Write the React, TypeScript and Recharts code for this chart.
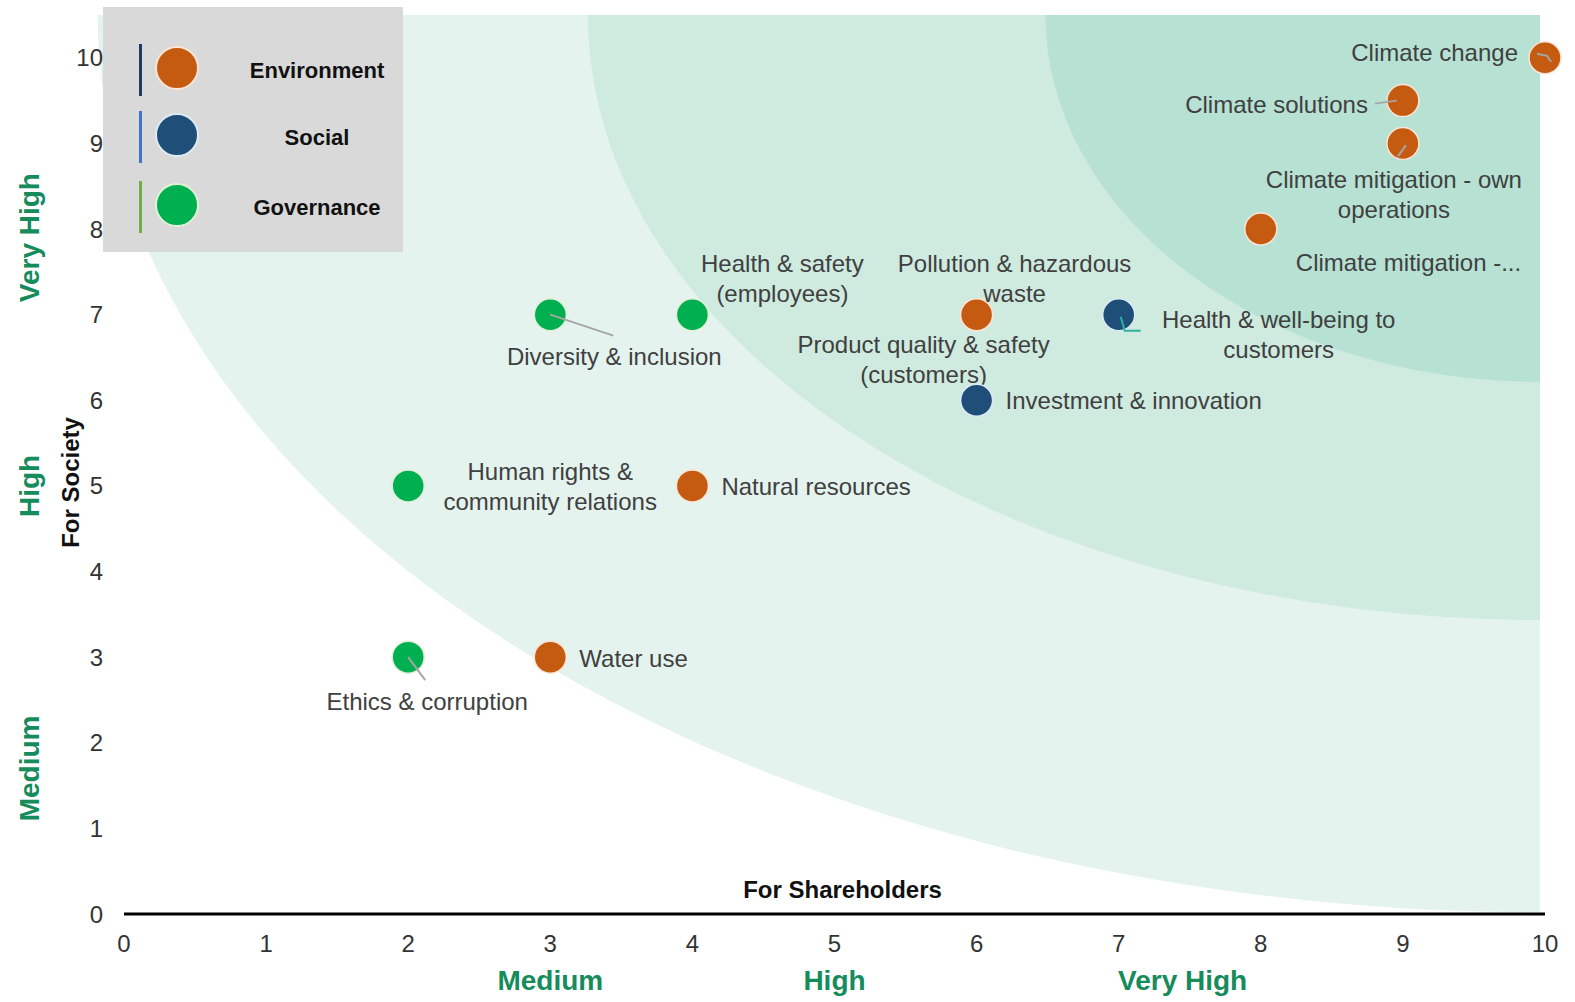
import React from "react";
import { ScatterChart, Scatter, XAxis, YAxis, ReferenceArea, Legend } from "recharts";

if (typeof document !== "undefined") document.body.style.margin = "0";

// Environment
const envNames = [
  "Climate change",
  "Climate solutions",
  "Climate mitigation - own operations",
  "Climate mitigation -...",
  "Product quality & safety (customers)",
  "Pollution & hazardous waste",
  "Natural resources",
  "Water use",
];
const envShareholders = [10, 9, 9, 8, 6, 6, 4, 3];
const envSociety = [10, 9.5, 9, 8, 7, 7, 5, 3];

// Social
const socNames = ["Health & well-being to customers", "Investment & innovation"];
const socShareholders = [7, 6];
const socSociety = [7, 6];

// Governance
const govNames = [
  "Diversity & inclusion",
  "Health & safety (employees)",
  "Human rights & community relations",
  "Ethics & corruption",
];
const govShareholders = [3, 4, 2, 2];
const govSociety = [7, 7, 5, 3];

const axisTicks = [0, 1, 2, 3, 4, 5, 6, 7, 8, 9, 10];
const bandLabels = ["Medium", "High", "Very High"];
const xBandPos = [3, 5, 7.45];
const yBandPos = [1.7, 5, 7.9];

const toRows = (names: string[], xs: number[], ys: number[]) =>
  names.map((name, i) => ({ name, x: xs[i], y: ys[i] }));

const envData = toRows(envNames, envShareholders, envSociety);
const socData = toRows(socNames, socShareholders, socSociety);
const govData = toRows(govNames, govShareholders, govSociety);
const bandRows = toRows(bandLabels, xBandPos, yBandPos);

const FONT = "'Liberation Sans', Arial, sans-serif";
const GREEN_TXT = "#168b5c";
const LABEL_COLOR = "#404040";

const seriesStyle: Record<string, { fill: string; ring: string; bar: string }> = {
  Environment: { fill: "#c55a11", ring: "#fbe5d6", bar: "#203864" },
  Social: { fill: "#1f4e79", ring: "#deebf7", bar: "#4472c4" },
  Governance: { fill: "#00b050", ring: "#e2f0d9", bar: "#70ad47" },
};
const legendOrder = ["Environment", "Social", "Governance"];

type Place = {
  dx: number;
  dy: number;
  anchor: "start" | "middle" | "end";
  wrap?: number;
  leader?: number[][];
  leaderColor?: string;
};

const placement: Record<string, Place> = {
  "Climate change": { dx: -27, dy: -6, anchor: "end", leader: [[-8, -4], [2, -2], [6, 4]] },
  "Climate solutions": { dx: -35, dy: 3, anchor: "end", leader: [[-28, 3], [-6, 0]] },
  "Climate mitigation - own operations": { dx: -9, dy: 36, anchor: "middle", wrap: 24, leader: [[-5, 13], [3, 2]] },
  "Climate mitigation -...": { dx: 35, dy: 33, anchor: "start" },
  "Product quality & safety (customers)": { dx: -53, dy: 29, anchor: "middle", wrap: 24 },
  "Pollution & hazardous waste": { dx: 38, dy: -52, anchor: "middle", wrap: 21 },
  "Natural resources": { dx: 29, dy: 0, anchor: "start" },
  "Water use": { dx: 29, dy: 1, anchor: "start" },
  "Health & well-being to customers": {
    dx: 160, dy: 4, anchor: "middle", wrap: 22,
    leader: [[2, 2], [6, 16], [22, 16]], leaderColor: "#2bb3a0",
  },
  "Investment & innovation": { dx: 29, dy: 0, anchor: "start" },
  "Diversity & inclusion": { dx: 64, dy: 41, anchor: "middle", leader: [[0, 0], [63, 21]] },
  "Health & safety (employees)": { dx: 90, dy: -52, anchor: "middle", wrap: 15 },
  "Human rights & community relations": { dx: 142, dy: -15, anchor: "middle", wrap: 19 },
  "Ethics & corruption": { dx: 19, dy: 44, anchor: "middle", leader: [[0, 0], [17, 23]] },
};

function wrapText(text: string, max?: number) {
  if (!max) return [text];
  const words = text.split(" ");
  const lines: string[] = [];
  let cur = "";
  words.forEach((w) => {
    const next = cur ? cur + " " + w : w;
    if (next.length > max && cur) {
      lines.push(cur);
      cur = w;
    } else cur = next;
  });
  if (cur) lines.push(cur);
  return lines;
}

function makeDot(series: string) {
  const st = seriesStyle[series];
  return (props: any) => {
    const { cx, cy, payload } = props;
    const p = placement[payload.name] || { dx: 20, dy: 0, anchor: "start" };
    const lines = wrapText(payload.name, p.wrap);
    return (
      <g>
        <circle cx={cx} cy={cy} r={16} fill={st.fill} stroke={st.ring} strokeWidth={1.5} />
        {p.leader && (
          <polyline
            points={p.leader.map(([a, b]) => `${cx + a},${cy + b}`).join(" ")}
            fill="none"
            stroke={p.leaderColor || "#a6a6a6"}
            strokeWidth={2}
          />
        )}
        <text
          x={cx + p.dx}
          y={cy + p.dy}
          textAnchor={p.anchor}
          dominantBaseline="central"
          fontFamily={FONT}
          fontSize={24}
          fill={LABEL_COLOR}
        >
          {lines.map((l, i) => (
            <tspan key={i} x={cx + p.dx} dy={i === 0 ? 0 : 30}>
              {l}
            </tspan>
          ))}
        </text>
      </g>
    );
  };
}

// shaded importance zones, quarter ellipses anchored at the top-right corner
function Zones(props: any) {
  const { x, y, width, height } = props;
  const cx = x + width - 5;
  const cy = y;
  const zones = [
    { rx: width * 1.015, ry: height * 0.998, fill: "#e4f3ee" },
    { rx: width * 0.67, ry: height * 0.673, fill: "#cfeadf" },
    { rx: width * 0.348, ry: height * 0.408, fill: "#b6e1d3" },
  ];
  return (
    <g>
      {zones.map((z, i) => (
        <path
          key={i}
          d={`M${cx},${cy} L${cx - z.rx},${cy} A${z.rx} ${z.ry} 0 0 0 ${cx},${cy + z.ry} Z`}
          fill={z.fill}
        />
      ))}
    </g>
  );
}

function LegendBox(props: any) {
  const items = (props.payload || [])
    .filter((it: any) => legendOrder.includes(it.value))
    .sort((a: any, b: any) => legendOrder.indexOf(a.value) - legendOrder.indexOf(b.value));
  return (
    <div style={{ width: 300, height: 245, background: "#d9d9d9", position: "relative" }}>
      {items.map((it: any, i: number) => {
        const st = seriesStyle[it.value];
        const top = [33, 100, 170][i];
        return (
          <div key={it.value} style={{ position: "absolute", left: 0, top, width: 300, height: 60 }}>
            <div style={{ position: "absolute", left: 36, top: 4, width: 3, height: 52, background: st.bar }} />
            <div
              style={{
                position: "absolute", left: 52, top: 6, width: 40, height: 40, borderRadius: "50%",
                background: it.color, border: `2px solid ${st.ring}`,
              }}
            />
            <div
              style={{
                position: "absolute", left: 130, width: 168, top: 18, textAlign: "center",
                fontFamily: FONT, fontWeight: "bold", fontSize: 22, color: "#111",
              }}
            >
              {it.value}
            </div>
          </div>
        );
      })}
    </div>
  );
}

const XBandTick = (props: any) => {
  const { x, y, payload } = props;
  const i = xBandPos.indexOf(payload.value);
  return (
    <text x={x} y={y + 26} textAnchor="middle" dominantBaseline="central"
      fontFamily={FONT} fontWeight="bold" fontSize={28} fill={GREEN_TXT}>
      {bandLabels[i]}
    </text>
  );
};

const YBandTick = (props: any) => {
  const { x, y, payload } = props;
  const i = yBandPos.indexOf(payload.value);
  const tx = x - 34;
  return (
    <text x={tx} y={y} transform={`rotate(-90, ${tx}, ${y})`} textAnchor="middle"
      dominantBaseline="central" fontFamily={FONT} fontWeight="bold" fontSize={28} fill={GREEN_TXT}>
      {bandLabels[i]}
    </text>
  );
};

const tickStyle = { fontFamily: FONT, fontSize: 24, fill: "#333" };

export default function App() {
  return (
    <div style={{ width: 1575, height: 1002, background: "#fff" }}>
      <ScatterChart width={1575} height={1002} margin={{ top: 15, right: 30, left: 0, bottom: 8 }}>
        <ReferenceArea x1={0} x2={10} y1={0} y2={10.5} shape={<Zones />} ifOverflow="visible" />
        <XAxis
          type="number"
          dataKey="x"
          domain={[0, 10]}
          ticks={axisTicks}
          height={40}
          axisLine={{ stroke: "#000", strokeWidth: 3 }}
          tickLine={false}
          tickSize={6}
          tickMargin={15}
          tick={tickStyle}
          label={{
            content: (p: any) => {
              const vb = p.viewBox;
              return (
                <text x={vb.x + vb.width / 2 + 8} y={vb.y - 25} textAnchor="middle" dominantBaseline="central"
                  fontFamily={FONT} fontWeight="bold" fontSize={24} fill="#111">
                  For Shareholders
                </text>
              );
            },
          }}
        />
        <XAxis
          xAxisId="band"
          type="number"
          dataKey="x"
          domain={[0, 10]}
          ticks={xBandPos}
          height={40}
          axisLine={false}
          tickLine={false}
          tickSize={0}
          tickMargin={0}
          tick={<XBandTick />}
        />
        <YAxis
          type="number"
          dataKey="y"
          domain={[0, 10.5]}
          ticks={axisTicks}
          width={60}
          axisLine={false}
          tickLine={false}
          tickSize={6}
          tickMargin={15}
          tick={tickStyle}
          label={{
            content: (p: any) => {
              const vb = p.viewBox;
              const tx = vb.x + 6;
              const ty = vb.y + vb.height / 2 + 18;
              return (
                <text x={tx} y={ty} transform={`rotate(-90, ${tx}, ${ty})`} textAnchor="middle"
                  dominantBaseline="central" fontFamily={FONT} fontWeight="bold" fontSize={24} fill="#111">
                  For Society
                </text>
              );
            },
          }}
        />
        <YAxis
          yAxisId="band"
          type="number"
          dataKey="y"
          domain={[0, 10.5]}
          ticks={yBandPos}
          width={64}
          axisLine={false}
          tickLine={false}
          tickSize={0}
          tickMargin={0}
          tick={<YBandTick />}
        />
        <Legend
          layout="vertical"
          align="center"
          verticalAlign="middle"
          content={<LegendBox />}
          wrapperStyle={{ left: 103, top: 7, width: 300, height: 245 }}
        />
        {/* invisible series so the band-label axes have data to scale against */}
        <Scatter
          name="bands"
          xAxisId="band"
          yAxisId="band"
          data={bandRows}
          legendType="none"
          shape={() => <g />}
          isAnimationActive={false}
        />
        <Scatter name="Environment" data={envData} fill={seriesStyle.Environment.fill}
          shape={makeDot("Environment")} isAnimationActive={false} />
        <Scatter name="Social" data={socData} fill={seriesStyle.Social.fill}
          shape={makeDot("Social")} isAnimationActive={false} />
        <Scatter name="Governance" data={govData} fill={seriesStyle.Governance.fill}
          shape={makeDot("Governance")} isAnimationActive={false} />
      </ScatterChart>
    </div>
  );
}
